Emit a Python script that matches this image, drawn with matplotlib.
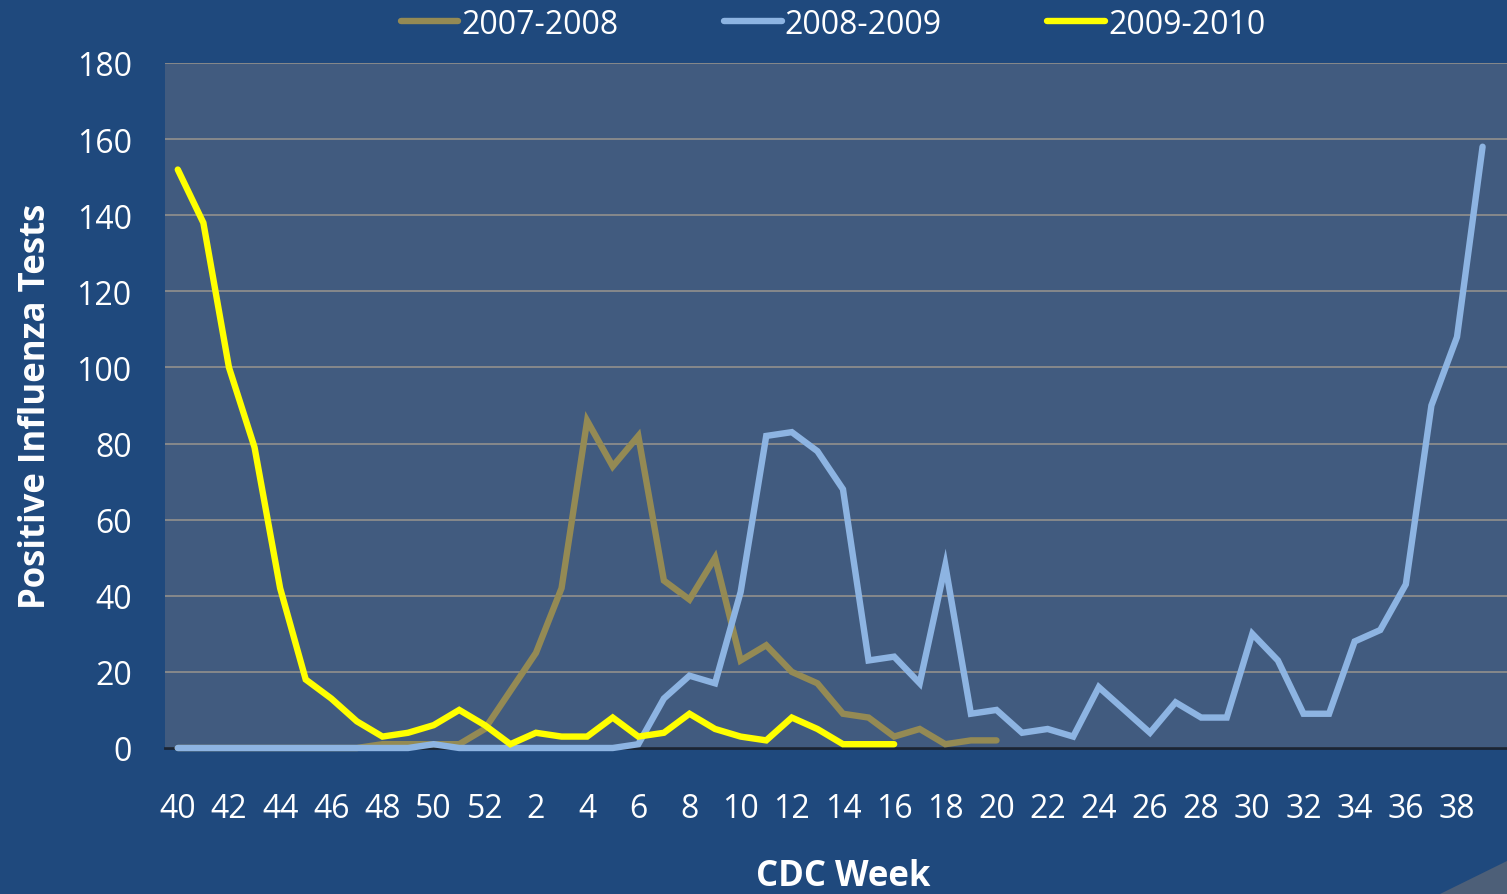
import matplotlib
matplotlib.use("Agg")
import matplotlib.pyplot as plt
from matplotlib.patches import Polygon
import numpy as np

# CDC weeks (season runs week 40 -> week 39)
weeks = list(range(40, 53)) + list(range(1, 40))
tick_labels = [str(w) for w in weeks[::2]]

s0708 = [0, 0, 0, 0, 0, 0, 0, 0, 1, 1, 1, 1, 5, 15, 25, 42, 86, 74, 82, 44,
         39, 50, 23, 27, 20, 17, 9, 8, 3, 5, 1, 2, 2]
s0809 = [0, 0, 0, 0, 0, 0, 0, 0, 0, 0, 1, 0, 0, 0, 0, 0, 0, 0, 1, 13,
         19, 17, 41, 82, 83, 78, 68, 23, 24, 17, 48, 9, 10, 4, 5, 3, 16, 10, 4, 12,
         8, 8, 30, 23, 9, 9, 28, 31, 43, 90, 108, 158]
s0910 = [152, 138, 100, 79, 42, 18, 13, 7, 3, 4, 6, 10, 6, 1, 4, 3, 3, 8, 3, 4,
         9, 5, 3, 2, 8, 5, 1, 1, 1]

series_names = ["2007-2008", "2008-2009", "2009-2010"]
colors = ["#948A54", "#8DB4E2", "#FFFF00"]

BG = "#1F497D"
PLOT_BG = "#415B7F"
W, H = 1507, 895

fig = plt.figure(figsize=(W / 100, H / 100), dpi=100, facecolor=BG)
ax = fig.add_axes([165 / W, 1 - 749 / H, (W - 165) / W, (749 - 64) / H])
ax.set_facecolor(PLOT_BG)

font = "Open Sans"
for vals, name, c in zip([s0708, s0809, s0910], series_names, colors):
    ax.plot(np.arange(len(vals)), vals, color=c, lw=4.6, label=name,
            solid_capstyle="round", solid_joinstyle="miter", clip_on=False,
            zorder=3)

ax.set_ylim(0, 180)
ax.set_yticks(range(0, 181, 20))
ax.set_xlim(-0.5, (W - 178) / 25.58)
ax.set_xticks(np.arange(0, len(weeks), 2))
ax.set_xticklabels(tick_labels)

ax.grid(axis="y", color="#8C8C8C", lw=1.3)
ax.set_axisbelow(True)
for s in ["top", "right", "left"]:
    ax.spines[s].set_visible(False)
ax.spines["bottom"].set_color("#1A2535")
ax.spines["bottom"].set_linewidth(2)
ax.spines["bottom"].set_zorder(2)

ax.tick_params(axis="both", length=0, labelcolor="white", labelsize=23)
ax.tick_params(axis="y", pad=24)
ax.tick_params(axis="x", pad=32)
for lbl in ax.get_xticklabels() + ax.get_yticklabels():
    lbl.set_fontfamily(font)

ax.set_ylabel("Positive Influenza Tests", color="white", fontsize=25,
              fontweight="bold", fontfamily=font, labelpad=16)
fig.text(843 / W, 1 - 877 / H, "CDC Week", color="white", fontsize=25,
         fontweight="bold", fontfamily=font, ha="center", va="center")

leg = fig.legend(loc="center", bbox_to_anchor=(833 / W, 1 - 25 / H), ncol=3,
                 frameon=False, prop={"family": font, "size": 23},
                 handlelength=1.8, handletextpad=0.1, columnspacing=3.3,
                 labelcolor="white")

# decorative swoosh in bottom-right corner
fig.patches.append(Polygon([(1440 / W, 0), (1.0, 0), (1.0, 1 - 862 / H)],
                           closed=True, transform=fig.transFigure,
                           facecolor="#4D5F78", edgecolor="none"))

fig.savefig("out.png", dpi=100, facecolor=BG)
